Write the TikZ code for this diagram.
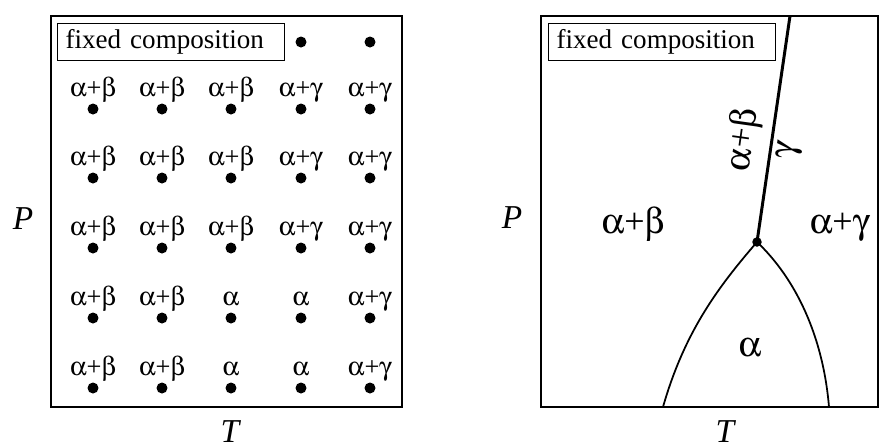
\documentclass[tikz,border=0pt]{standalone}
\usepackage[Symbol]{upgreek}
\usepackage{fontspec}
\setmainfont{Liberation Serif}
\usetikzlibrary{positioning}
\newcommand{\pab}{$\upalpha$+$\upbeta$}
\newcommand{\pag}{$\upalpha$+$\upgamma$}
\newcommand{\pa}{$\upalpha$}

\begin{document}
\begin{tikzpicture}[x=0.02cm,y=-0.02cm,
    dot/.style={circle,fill=black,inner sep=0pt,minimum size=0.22cm},
    phase/.style={font=\fontsize{15}{18}\selectfont,inner sep=0pt,anchor=base},
    bigphase/.style={font=\fontsize{20.5}{24}\selectfont,inner sep=0pt,anchor=base},
    axis/.style={font=\fontsize{19}{22}\selectfont\itshape,inner sep=0pt,anchor=base},
    fcbox/.style={draw,line width=0.7pt,anchor=north west,minimum width=4.54cm,
      minimum height=0.72cm,text width=4.22cm,inner xsep=0.16cm,align=left,
      font=\fontsize{15.4}{18}\selectfont}]
    \useasboundingbox (0,0) rectangle (894,444);
    % left panel: grid of experiments
    \draw[line width=0.7pt] (51,16) rectangle (402,407);
    \node[fcbox] (fc1) at (57,23) {fixed composition};
    \node[dot] (d04) at (301,42) {};
    \node[dot] (d05) at (370,42) {};
    \foreach \y/\la/\lb/\lc/\ld/\le [count=\r] in
        {109/\pab/\pab/\pab/\pag/\pag, 178/\pab/\pab/\pab/\pag/\pag, 248/\pab/\pab/\pab/\pag/\pag,
         318/\pab/\pab/\pa/\pa/\pag, 388/\pab/\pab/\pa/\pa/\pag}{
        \foreach \x/\l [count=\c] in {93/\la,162/\lb,231/\lc,301/\ld,370/\le}{
            \node[dot] (d\r\c) at (\x,\y) {};
            \node[phase] (l\r\c) at (\x,\y-13) {\l};
        }
    }
    \node[axis] (P1) at (23,229) {P};
    \node[axis] (T1) at (230,442) {T};
    % right panel: phase diagram
    \draw[line width=0.7pt] (541,16) rectangle (878,407);
    \node[fcbox] (fc2) at (548,23) {fixed composition};
    \coordinate (tp) at (757,242);
    \coordinate (top) at (790,16);
    \coordinate (lf) at (663,407);
    \coordinate (rf) at (829,407);
    \draw[line width=1.7pt] (tp) -- (top);
    \draw[line width=1pt] (lf) .. controls (685,330) and (720,285) .. (tp);
    \draw[line width=1pt] (tp) .. controls (795,278) and (823,335) .. (rf);
    \node[dot,minimum size=0.19cm] (tpd) at (tp) {};
    \node[bigphase,anchor=center,rotate=82] (lab) at (744,140) {\pab};
    \node[bigphase,anchor=center,rotate=82] (lg) at (790,150) {$\upgamma$};
    \node[bigphase] (rab) at (633,233) {\pab};
    \node[bigphase] (rag) at (840,233) {\pag};
    \node[bigphase] (ra) at (750,356) {\pa};
    \node[axis] (P2) at (512,228) {P};
    \node[axis] (T2) at (725,442) {T};
\end{tikzpicture}
\end{document}
